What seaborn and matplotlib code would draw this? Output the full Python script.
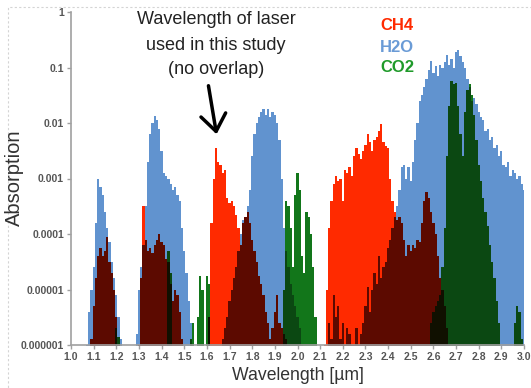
import numpy as np
import seaborn as sns
import matplotlib.pyplot as plt
from matplotlib.patches import Rectangle
from matplotlib.ticker import NullLocator

sns.set_theme(style='white')
plt.rcParams['font.family'] = ['Liberation Sans', 'DejaVu Sans']

# wavelength grid, 1.00 .. 3.00 um in 0.01 steps
wl = np.round(1.0 + 0.01 * np.arange(201), 2)

# log10(absorption), -7 = nothing above the axis floor
h2o_log = [
    -7, -7, -7, -7, -7, -7, -7, -6.0, -5.4, -5.0,                    # 1.00
    -4.6, -3.8, -3.0, -3.15, -3.3, -3.6, -3.9, -4.15, -4.5, -4.8,    # 1.10
    -5.1, -5.5, -5.9, -7, -7, -7, -7, -7, -7, -5.8,                  # 1.20
    -5.0, -4.6, -4.2, -3.5, -2.7, -2.2, -2.0, -1.88, -1.95, -2.1,    # 1.30
    -2.5, -2.9, -2.95, -3.0, -3.1, -3.2, -3.15, -3.3, -3.4, -3.9,    # 1.40
    -4.3, -4.7, -5.2, -5.6, -6.0, -7, -7, -7, -7, -7,                # 1.50
    -7, -7, -7, -7, -7, -7, -7, -5.9, -5.7, -5.5,                    # 1.60
    -5.2, -5.0, -4.8, -4.6, -4.3, -4.0, -3.75, -3.7, -3.5, -3.2,     # 1.70
    -2.6, -2.2, -2.0, -1.9, -1.8, -1.75, -1.85, -1.75, -1.9, -1.8,   # 1.80
    -1.85, -2.0, -2.3, -3.0, -3.9, -4.3, -4.6, -4.9, -5.1, -5.3,     # 1.90
    -5.5, -5.7, -6.0, -7, -7, -7, -7, -7, -7, -7,                    # 2.00
    -7, -7, -7, -7, -5.6, -5.9, -5.1, -5.5, -5.3, -5.9,              # 2.10
    -5.6, -6.0, -5.7, -5.8, -6.0, -6.0, -5.7, -6.0, -5.8, -5.6,      # 2.20
    -5.3, -4.95, -5.4, -5.0, -4.7, -4.9, -4.4, -4.8, -4.6, -4.5,     # 2.30
    -4.25, -4.1, -3.9, -3.7, -3.5, -3.2, -2.8, -2.75, -3.0, -2.8,    # 2.40
    -3.05, -2.7, -2.3, -2.0, -1.6, -1.5, -1.35, -1.2, -1.05, -0.88,  # 2.50
    -1.1, -0.98, -1.15, -0.95, -1.0, -0.9, -0.78, -0.95, -0.85, -1.0,  # 2.60
    -0.72, -0.68, -0.8, -0.9, -1.0, -1.2, -1.35, -1.6, -1.55, -1.65,   # 2.70
    -1.8, -1.9, -1.95, -2.15, -2.1, -2.3, -2.25, -2.45, -2.4, -2.6,    # 2.80
    -2.5, -2.75, -2.8, -2.7, -2.95, -2.85, -2.9, -3.0, -2.95, -3.1,    # 2.90
    -3.2,                                                              # 3.00
]

ch4_log = [
    -7, -7, -7, -7, -7, -7, -7, -7, -7, -5.9,                        # 1.00
    -5.3, -4.8, -4.4, -4.25, -4.4, -4.3, -4.05, -4.5, -4.7, -5.0,    # 1.10
    -5.5, -6.0, -7, -7, -7, -7, -7, -7, -7, -7,                      # 1.20
    -6.0, -4.8, -3.5, -4.1, -4.3, -4.25, -4.35, -4.2, -4.1, -4.0,    # 1.30
    -4.15, -4.2, -4.45, -4.5, -4.9, -5.2, -5.0, -5.1, -5.4, -5.9,    # 1.40
    -7, -7, -7, -7, -7, -7, -7, -7, -7, -7,                          # 1.50
    -7, -5.5, -3.8, -3.0, -2.45, -2.7, -2.75, -2.9, -2.85, -3.35,    # 1.60
    -3.45, -3.4, -3.5, -3.65, -3.9, -4.2, -3.8, -3.7, -3.6, -3.8,    # 1.70
    -4.1, -4.3, -4.5, -4.75, -4.9, -5.1, -5.4, -5.6, -5.9, -5.7,     # 1.80
    -5.4, -5.1, -5.6, -5.7, -5.8, -5.9, -6.0, -7, -7, -7,            # 1.90
    -7, -7, -7, -7, -7, -7, -7, -7, -7, -7,                          # 2.00
    -7, -7, -6.0, -5.0, -3.9, -3.4, -3.1, -2.95, -3.05, -3.0,        # 2.10
    -3.4, -2.85, -2.9, -2.8, -2.95, -2.6, -2.45, -2.55, -2.65, -2.5, # 2.20
    -2.4, -2.2, -2.35, -2.5, -2.3, -2.25, -2.15, -2.02, -2.35, -2.42,  # 2.30
    -2.45, -3.0, -3.4, -3.6, -3.75, -3.7, -3.8, -4.1, -4.4, -4.2,      # 2.40
    -4.3, -4.2, -4.25, -4.1, -4.15, -3.8, -3.4, -3.25, -3.35, -3.6,    # 2.50
    -3.8, -4.0, -4.4, -4.8, -5.0, -5.3, -5.7, -6.0, -7, -7,            # 2.60
    -7, -7, -7, -7, -7, -7, -7, -7, -7, -7,                            # 2.70
    -7, -7, -7, -7, -7, -7, -7, -7, -7, -7,                            # 2.80
    -7, -7, -7, -7, -7, -7, -7, -7, -7, -7,                            # 2.90
    -7,                                                                # 3.00
]

co2_log = [
    -7, -7, -7, -7, -7, -7, -7, -7, -7, -7,                          # 1.00
    -7, -7, -7, -7, -7, -7, -7, -7, -7, -7,                          # 1.10
    -5.7, -5.85, -7, -7, -7, -7, -7, -7, -7, -7,                     # 1.20
    -7, -7, -7, -7, -7, -7, -7, -7, -7, -7,                          # 1.30
    -7, -7, -7, -4.3, -4.7, -7, -7, -7, -7, -7,                      # 1.40
    -7, -7, -7, -5.9, -5.6, -7, -5.5, -4.75, -5.0, -7,               # 1.50
    -4.75, -4.9, -7, -7, -7, -7, -7, -7, -7, -7,                     # 1.60
    -7, -7, -7, -7, -7, -7, -7, -7, -7, -7,                          # 1.70
    -7, -7, -7, -7, -7, -7, -7, -7, -7, -7,                          # 1.80
    -7, -7, -7, -7, -5.0, -3.4, -3.5, -3.9, -4.6, -3.3,              # 1.90
    -2.9, -3.2, -4.4, -4.7, -3.6, -3.7, -4.0, -4.6, -5.5, -7,        # 2.00
    -7, -7, -7, -7, -7, -7, -7, -7, -7, -7,                          # 2.10
    -7, -7, -7, -7, -7, -7, -7, -7, -7, -7,                          # 2.20
    -7, -7, -7, -7, -7, -7, -7, -7, -7, -7,                          # 2.30
    -7, -7, -7, -7, -7, -7, -7, -7, -7, -7,                          # 2.40
    -7, -7, -7, -7, -7, -7, -7, -7, -7, -5.6,                        # 2.50
    -5.4, -5.3, -5.2, -5.1, -4.6, -3.9, -2.6, -1.7, -1.25, -1.3,     # 2.60
    -1.28, -1.7, -2.2, -2.6, -1.8, -1.4, -1.3, -1.5, -1.85, -2.3,    # 2.70
    -2.75, -3.05, -3.35, -3.6, -3.85, -4.2, -4.5, -4.8, -5.2, -5.6,  # 2.80
    -7, -7, -7, -7, -7, -7, -5.6, -5.3, -5.4, -5.9,                  # 2.90
    -7,                                                              # 3.00
]

y_ticks = [1e-6, 1e-5, 1e-4, 1e-3, 1e-2, 1e-1, 1]
y_labels = ['0.000001', '0.00001', '0.0001', '0.001', '0.01', '0.1', '1']
x_labels = ['1.0', '1.1', '1.2', '1.3', '1.4', '1.5', '1.6', '1.7', '1.8', '1.9', '2.0',
            '2.1', '2.2', '2.3', '2.4', '2.5', '2.6', '2.7', '2.8', '2.9', '3.0']

h2o = 10.0 ** np.array(h2o_log)
ch4 = 10.0 ** np.array(ch4_log)
co2 = 10.0 ** np.array(co2_log)
floor = 1e-7

c_h2o = '#6193cf'
c_ch4 = '#ff2a00'
c_co2 = '#12761a'

fig = plt.figure(figsize=(5.31, 3.88), dpi=100)
ax = fig.add_axes([71 / 531, 1 - 345 / 388, 453 / 531, 333 / 388])
ax.set_yscale('log')


def band(vals, color):
    ax.fill_between(wl, floor, vals, step='mid', color=color, lw=0)


band(h2o, c_h2o)
band(ch4, c_ch4)
band(co2, c_co2)
# overlapping absorption shows up darker (like a multiply blend)
band(np.minimum(ch4, h2o), '#5c0a00')
band(np.minimum(co2, h2o), '#0b4812')
band(np.minimum(ch4, co2), '#101000')

ax.set_xlim(1.0, 3.0)
ax.set_ylim(1e-6, 1)
ax.set_yticks(y_ticks)
ax.set_yticklabels(y_labels)
ax.yaxis.set_minor_locator(NullLocator())
ax.set_xticks([float(s) for s in x_labels])
ax.set_xticklabels(x_labels)
ax.tick_params(axis='both', length=3, width=1, color='#a0a0a0', labelsize=7.5,
               labelcolor='#555555', pad=2, left=True, bottom=True)
for lab in ax.get_xticklabels() + ax.get_yticklabels():
    lab.set_fontweight('bold')
sns.despine(ax=ax)
for side in ['left', 'bottom']:
    ax.spines[side].set_color('#a0a0a0')
    ax.spines[side].set_linewidth(1.2)
ax.grid(False)

fig.text(14 / 531, 1 - 178 / 388, 'Absorption', rotation=90, ha='center', va='center',
         fontsize=14.5, color='#333333')
fig.text(298 / 531, 1 - 376 / 388, 'Wavelength [µm]', ha='center', va='center',
         fontsize=12.7, color='#333333')

for txt, yp in [('Wavelength of laser', 20), ('used in this study', 45), ('(no overlap)', 69)]:
    fig.text(216 / 531, 1 - yp / 388, txt, ha='center', va='center', fontsize=13, color='#222222')
ax.annotate('', xy=(217 / 531, 1 - 137 / 388), xycoords='figure fraction',
            xytext=(208 / 531, 1 - 83 / 388), textcoords='figure fraction',
            arrowprops=dict(arrowstyle='->,head_length=0.6,head_width=0.45', lw=2.5,
                            color='black', mutation_scale=20))

for txt, col, yp in [('CH4', c_ch4, 26), ('H2O', '#6a9bd6', 47), ('CO2', '#1f9a2a', 67)]:
    fig.text(380 / 531, 1 - yp / 388, txt, ha='left', va='center', fontsize=12,
             fontweight='bold', color=col)

fig.add_artist(Rectangle((8 / 531, -0.1), 1.2, 1.1 - 7 / 388, transform=fig.transFigure,
                         fill=False, ec='#d4d4d4', lw=0.8, ls=(0, (2, 2))))

fig.savefig('out.png', dpi=100)
